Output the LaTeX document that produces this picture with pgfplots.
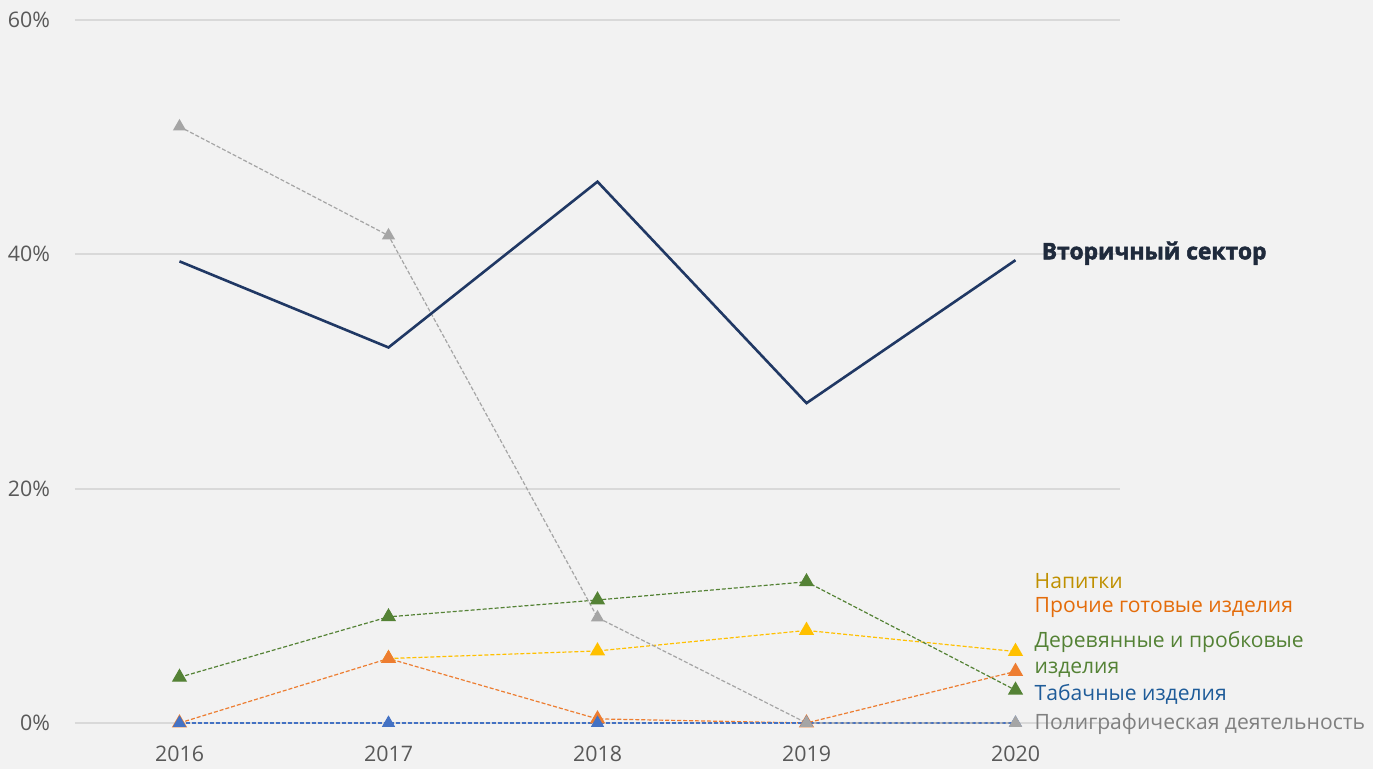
\documentclass[border=0pt]{standalone}
\usepackage{fontspec}
\setmainfont{Open Sans}
\newfontfamily\heavyfont[BoldFeatures={FakeBold=2.2}]{Open Sans}
\usepackage{pgfplots}
\pgfplotsset{compat=1.18}
\definecolor{bg}{HTML}{F2F2F2}
\definecolor{gridc}{HTML}{D9D9D9}
\definecolor{tickc}{HTML}{595959}
\definecolor{navy}{HTML}{203864}
\definecolor{cgrey}{HTML}{A5A5A5}
\definecolor{cgreen}{HTML}{548235}
\definecolor{cyellow}{HTML}{FFC000}
\definecolor{corange}{HTML}{ED7D31}
\definecolor{cblue}{HTML}{4472C4}
\definecolor{lyellow}{HTML}{BF9000}
\definecolor{lorange}{HTML}{E46C0A}
\definecolor{lblue}{HTML}{1F5C99}
\definecolor{lgrey}{HTML}{808080}
\definecolor{lnavy}{HTML}{1F2A3C}
\begin{document}
\begin{tikzpicture}
\useasboundingbox (0,0) rectangle (686.5pt,384.5pt);
\fill[bg] (0,0) rectangle (686.5pt,384.5pt);
\begin{axis}[
  at={(37.5pt,23pt)}, anchor=south west,
  scale only axis, width=522.5pt, height=351.5pt,
  xmin=2015.5, xmax=2020.5, ymin=0, ymax=60,
  axis line style={draw=none},
  major tick length=0pt,
  ymajorgrids, grid style={gridc, line width=0.9pt},
  xtick={2016,2017,2018,2019,2020},
  xticklabels={2016,2017,2018,2019,2020},
  ytick={0,20,40,60},
  yticklabels={0\%,20\%,40\%,60\%},
  tick label style={font=\fontsize{10.7}{12}\selectfont, text=tickc},
  yticklabel style={anchor=east, xshift=-9pt},
  xticklabel style={anchor=north, yshift=-8pt},
  clip=false,
  every axis plot/.append style={line width=0.6pt, dash pattern=on 2pt off 1pt},
  mark size=3.8pt,
]
\addplot[cyellow, mark=triangle*, mark options={solid, fill=cyellow, draw=cyellow}] coordinates {
(2017,5.5) (2018,6.15) (2019,7.9) (2020,6.1)};
\addplot[corange, mark=triangle*, mark options={solid, fill=corange, draw=corange}] coordinates {
(2016,0) (2017,5.5) (2018,0.35) (2019,0) (2020,4.4)};
\addplot[cgreen, mark=triangle*, mark options={solid, fill=cgreen, draw=cgreen}] coordinates {
(2016,3.9) (2017,9.06) (2018,10.5) (2019,12.05) (2020,2.8)};
\addplot[cblue, mark=triangle*, mark options={solid, fill=cblue, draw=cblue, scale=0.85}] coordinates {
(2016,0) (2017,0) (2018,0) (2019,0) (2020,0)};
\addplot[cgrey, mark=triangle*, mark options={solid, fill=cgrey, draw=cgrey, scale=0.85}] coordinates {
(2016,50.9) (2017,41.6) (2018,9.0) (2019,0) (2020,0)};
\addplot[navy, solid, line width=1.3pt, no markers] coordinates {
(2016,39.4) (2017,32.05) (2018,46.2) (2019,27.3) (2020,39.5)};
\begin{scope}[every node/.style={anchor=west, inner sep=0pt, font=\fontsize{10.55}{13}\selectfont}]
\node[text=lyellow] at (axis cs:2020.09,12.14) {Напитки};
\node[text=lorange] at (axis cs:2020.09,9.83) {Прочие готовые изделия};
\node[text=cgreen] at (axis cs:2020.09,6.92) {Деревянные и пробковые};
\node[text=cgreen] at (axis cs:2020.09,4.53) {изделия};
\node[text=lblue] at (axis cs:2020.09,2.48) {Табачные изделия};
\node[text=lgrey] at (axis cs:2020.09,-0.09) {Полиграфическая деятельность};
\node[text=lnavy, font=\fontsize{11.4}{13}\heavyfont\bfseries] at (axis cs:2020.124,40.1) {Вторичный сектор};
\end{scope}
\end{axis}
\end{tikzpicture}
\end{document}
